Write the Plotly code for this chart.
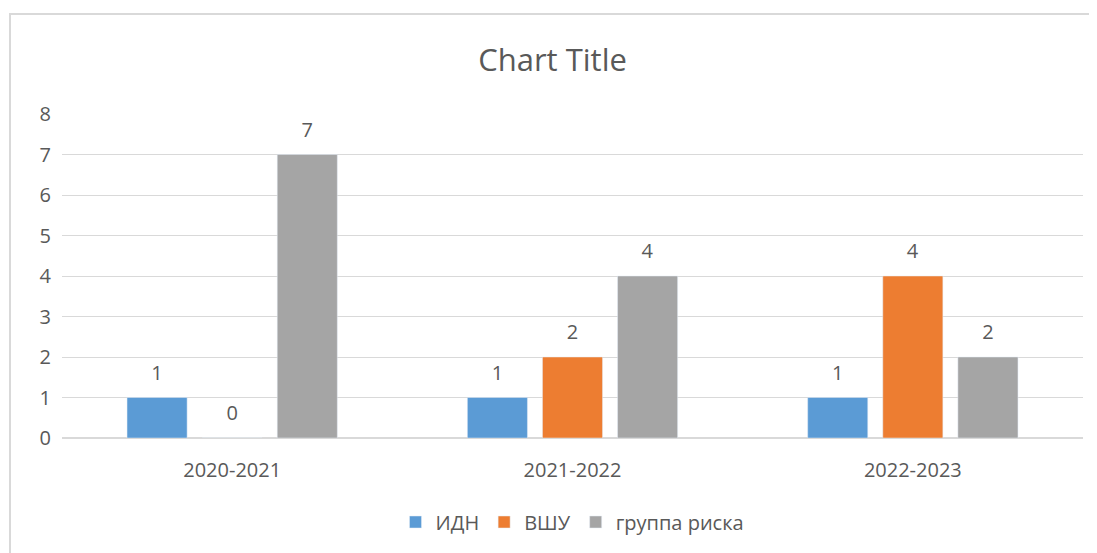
import plotly.graph_objects as go

categories = ["2020-2021", "2021-2022", "2022-2023"]
series_names = ["ИДН", "ВШУ", "группа риска"]
idn = [1, 1, 1]
vshu = [0, 2, 4]
risk = [7, 4, 2]
colors = ["#5B9BD5", "#ED7D31", "#A5A5A5"]

FONT = "Open Sans"
TXT = "#595959"
OFF = 8  # page body margin

W, H = 1097 - OFF, 553 - OFF
L, R, T, B = 62 - OFF, 14, 114 - OFF, 115
pw = W - L - R
ph = H - T - B

fig = go.Figure()
for name, vals, col in zip(series_names, [idn, vshu, risk], colors):
    fig.add_trace(go.Bar(
        x=categories, y=vals, name=name, marker_color=col,
        texttemplate="<span style='font-size:20px'>%{y}</span><br> ",
        textposition="outside",
        textfont=dict(family=FONT, size=9, color=TXT),
        cliponaxis=False,
    ))

fig.update_layout(
    width=W, height=H,
    margin=dict(l=L, r=R, t=T, b=B),
    paper_bgcolor="white", plot_bgcolor="white",
    barmode="group", bargap=0.338, bargroupgap=0.2,
    uniformtext=dict(mode=False),
    title=dict(text="Chart Title", x=0.5, xanchor="center", y=1 - (60 - OFF) / H, yanchor="middle",
               font=dict(family=FONT, size=31, color=TXT)),
    font=dict(family=FONT, size=20, color=TXT),
    legend=dict(orientation="h", x=0.5, xanchor="center", y=-(522 - 438) / ph, yanchor="middle",
                font=dict(family=FONT, size=20, color=TXT), itemwidth=30, traceorder="normal"),
    xaxis=dict(showgrid=False, showline=True, linecolor="#D9D9D9", linewidth=1, ticks="",
               ticklabelstandoff=14,
               tickfont=dict(family=FONT, size=20, color=TXT)),
    yaxis=dict(range=[0, 8], dtick=1, showgrid=True, gridcolor="#D9D9D9", gridwidth=1,
               zeroline=True, zerolinecolor="#D9D9D9", showline=False, ticks="", ticklen=0,
               ticklabelstandoff=10,
               tickfont=dict(family=FONT, size=20, color=TXT)),
    shapes=[
        dict(type="rect", xref="paper", yref="paper",
             x0=(10 - 62) / pw, x1=(W + 20 - L) / pw,
             y0=-(H + 20 - (H - B)) / ph, y1=1 + (114 - 14) / ph,
             line=dict(color="#D9D9D9", width=2), fillcolor="rgba(0,0,0,0)", layer="below"),
    ],
)

fig.write_html("out.html")
